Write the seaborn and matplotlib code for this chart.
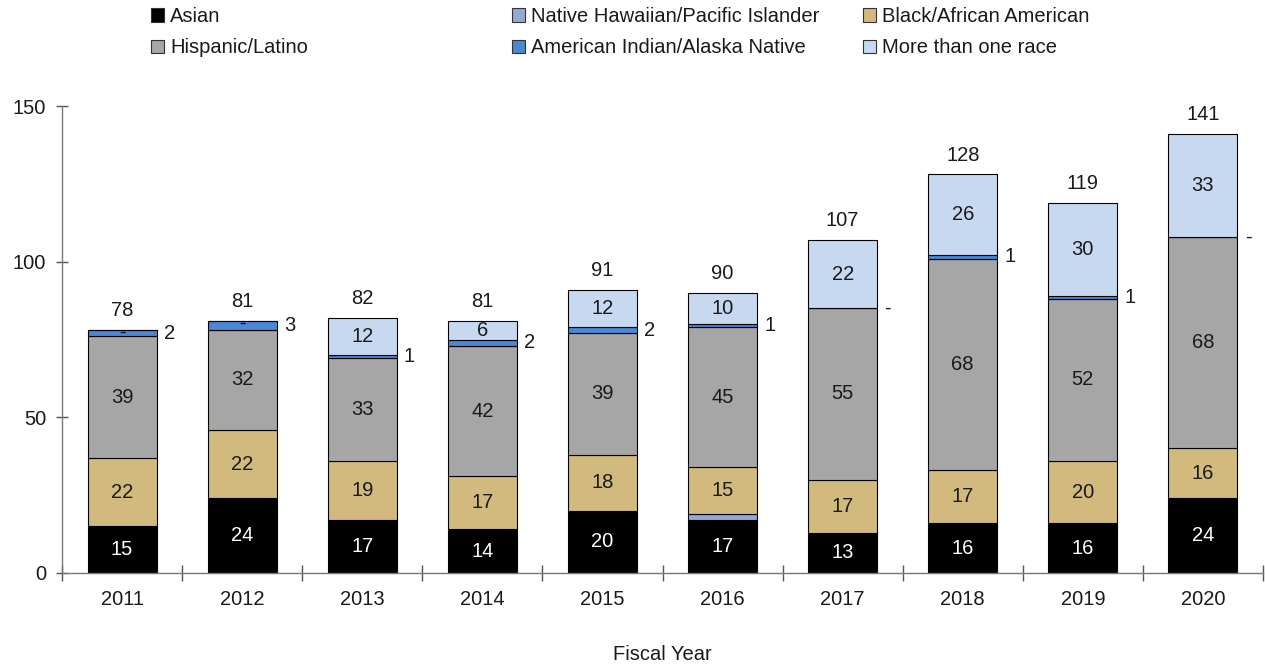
import numpy as np
import pandas as pd
import matplotlib
matplotlib.use("Agg")
import matplotlib.pyplot as plt
import seaborn as sns
from matplotlib.patches import Patch

sns.set_theme(style="white")
plt.rcParams['font.family'] = ['Liberation Sans', 'DejaVu Sans']

# data
years = ["2011", "2012", "2013", "2014", "2015", "2016", "2017", "2018", "2019", "2020"]
asian = [15, 24, 17, 14, 20, 17, 13, 16, 16, 24]
hawaiian = [0, 0, 0, 0, 0, 2, 0, 0, 0, 0]
black = [22, 22, 19, 17, 18, 15, 17, 17, 20, 16]
hispanic = [39, 32, 33, 42, 39, 45, 55, 68, 52, 68]
american_indian = [2, 3, 1, 2, 2, 1, 0, 1, 1, 0]
multi_race = [0, 0, 12, 6, 12, 10, 22, 26, 30, 33]
totals = [78, 81, 82, 81, 91, 90, 107, 128, 119, 141]

series = [
    ("Asian", asian, "#000000"),
    ("Native Hawaiian/Pacific Islander", hawaiian, "#93A9D3"),
    ("Black/African American", black, "#D2BA7E"),
    ("Hispanic/Latino", hispanic, "#A5A6A5"),
    ("American Indian/Alaska Native", american_indian, "#4A87D6"),
    ("More than one race", multi_race, "#C7D9F1"),
]

df = pd.DataFrame({"year": years})
for name, vals, _ in series:
    df[name] = vals

fs = 14.5
fig = plt.figure(figsize=(12.65, 6.65), dpi=100)
ax = fig.add_axes([62 / 1265, 1 - 573 / 665, 1201 / 1265, 467 / 665])

bw = 0.575
txt = "#1a1a1a"
bottom = np.zeros(len(years))
for name, vals, col in series:
    sns.barplot(data=df, x="year", y=name, bottom=bottom.copy(), color=col,
                width=bw, edgecolor="black", linewidth=0.8, saturation=1,
                ax=ax, zorder=2)
    v = np.array(vals, dtype=float)
    for i, val in enumerate(v):
        mid = bottom[i] + val / 2
        if name == "Native Hawaiian/Pacific Islander":
            continue
        if name == "American Indian/Alaska Native":
            lab = "-" if val == 0 else f"{int(val)}"
            ax.text(i + bw / 2 + 0.06, mid, lab, ha="left", va="center",
                    fontsize=fs, color=txt)
        elif name == "More than one race":
            if val == 0:
                # zero-height segment: dash sits just under the stack top
                ax.text(i, mid - 0.8, "-", ha="center", va="center",
                        fontsize=fs, color=txt, zorder=5)
            else:
                ax.text(i, mid, f"{int(val)}", ha="center", va="center",
                        fontsize=fs, color=txt)
        else:
            c = "white" if name == "Asian" else txt
            ax.text(i, mid, f"{int(val)}", ha="center", va="center",
                    fontsize=fs, color=c)
    bottom += v

for i, t in enumerate(totals):
    ax.annotate(f"{t}", (i, t), xytext=(0, 14), textcoords="offset points",
                ha="center", va="center", fontsize=fs, color=txt)

ax.set_xlim(-0.5, len(years) - 0.5)
ax.set_ylim(0, 150)
ax.set_yticks([0, 50, 100, 150])
ax.set_xticks(np.arange(len(years)))
ax.set_xticklabels(years)
ax.set_xticks(np.arange(len(years) + 1) - 0.5, minor=True)

for s in ["top", "right"]:
    ax.spines[s].set_visible(False)
for s in ["left", "bottom"]:
    ax.spines[s].set_color("#777777")
    ax.spines[s].set_linewidth(1.0)

ax.tick_params(axis="y", direction="inout", length=9, width=1, color="#555555",
               pad=7, labelsize=fs, labelcolor=txt, left=True)
ax.tick_params(axis="x", which="major", length=0, pad=12, labelsize=fs, labelcolor=txt)
ax.tick_params(axis="x", which="minor", direction="inout", length=12, width=1,
               color="#555555", bottom=True)
ax.set_xlabel("Fiscal Year", fontsize=fs, color=txt, labelpad=26)
ax.set_ylabel("")

# legend: three columns placed by hand
cols = [[0, 3], [1, 4], [2, 5]]
xpos = [151, 512, 863]
for idx, xp in zip(cols, xpos):
    handles = [Patch(facecolor=series[k][2], edgecolor="#333333", linewidth=0.8,
                     label=series[k][0]) for k in idx]
    fig.legend(handles=handles, loc="upper left",
               bbox_to_anchor=(xp / 1265, 1 - 7 / 665), frameon=False,
               fontsize=fs, handlelength=0.65, handleheight=0.65,
               handletextpad=0.3, labelspacing=0.62, borderpad=0,
               borderaxespad=0, labelcolor=txt)

fig.savefig("out.png", dpi=100)
